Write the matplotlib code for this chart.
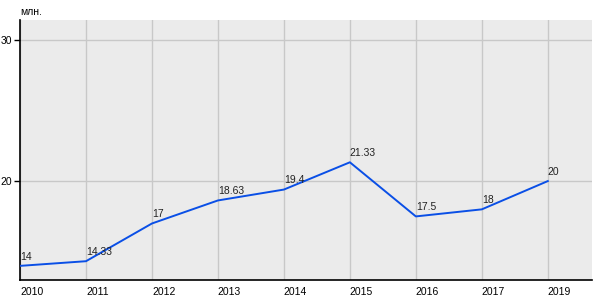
import matplotlib.pyplot as plt
import numpy as np

plt.rcParams['font.family'] = ['Liberation Sans', 'DejaVu Sans']

years = ["2010", "2011", "2012", "2013", "2014", "2015", "2016", "2017", "2019"]
values = [14, 14.33, 17, 18.63, 19.4, 21.33, 17.5, 18, 20]
labels = ["14", "14.33", "17", "18.63", "19.4", "21.33", "17.5", "18", "20"]

x = np.arange(len(years))

fig = plt.figure(figsize=(6, 3), dpi=100)
ax = fig.add_axes([20/600, 20/300, 572/600, 260/300])
ax.set_facecolor("#ebebeb")

ax.plot(x, values, color="#0a4fe6", linewidth=1.4, zorder=3)
for xi, v, lab in zip(x, values, labels):
    ax.annotate(lab, (xi, v), xytext=(0, 3), textcoords="offset points",
                ha="left", va="bottom", fontsize=7.5, color="#222222")

ax.set_xlim(0, len(years) - 1 + 0.67)
ax.set_ylim(13, 31.4)
ax.set_yticks([20, 30])
ax.set_xticks(x)
ax.set_xticklabels(years, ha="left")
ax.tick_params(axis="x", length=0, labelsize=7.5, pad=5)
ax.tick_params(axis="y", length=4, width=1, labelsize=7.5, pad=2)
ax.grid(True, color="#c8c8c8", linewidth=1)
ax.set_axisbelow(True)
for s in ["top", "right"]:
    ax.spines[s].set_visible(False)
ax.spines["left"].set_linewidth(1.2)
ax.spines["bottom"].set_linewidth(1.2)

fig.text(20/600, 1 - 12/300, "млн.", fontsize=7.5, ha="left", va="center")

fig.savefig("out.png", dpi=100)
